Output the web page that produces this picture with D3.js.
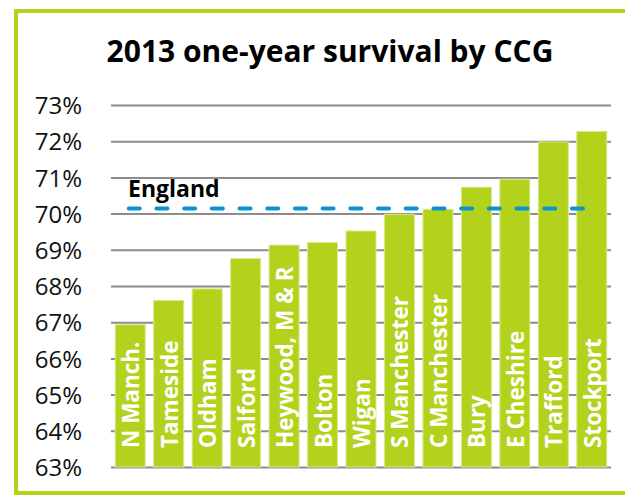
<!DOCTYPE html>
<html lang="en">
<head>
    <meta charset="UTF-8">
    <title>2013 one-year survival by CCG</title>
    <style>
        html, body { margin: 0; padding: 0; background: #fff; overflow: hidden; }
        svg { display: block; font-family: "Open Sans", sans-serif; }
    </style>
</head>
<body>
    <svg id="chart" width="625" height="495"></svg>

    <script src="https://d3js.org/d3.v7.min.js"></script>
    <script>
        // data
        const categories = ['N Manch.', 'Tameside', 'Oldham', 'Salford', 'Heywood, M & R', 'Bolton', 'Wigan',
            'S Manchester', 'C Manchester', 'Bury', 'E Cheshire', 'Trafford', 'Stockport'];
        const survival = [66.93, 67.6, 67.92, 68.76, 69.13, 69.2, 69.52, 69.98, 70.12, 70.73, 70.95, 71.98, 72.27];
        const englandValue = 70.14;
        const yTicks = [63, 64, 65, 66, 67, 68, 69, 70, 71, 72, 73];

        const svg = d3.select('#chart');
        const green = '#b3d21c';

        // outer green frame (runs off the right edge)
        svg.append('rect')
            .attr('x', 16).attr('y', 11)
            .attr('width', 640).attr('height', 482)
            .attr('fill', '#fff')
            .attr('stroke', green)
            .attr('stroke-width', 4);

        svg.append('text')
            .attr('x', 330).attr('y', 62)
            .attr('text-anchor', 'middle')
            .attr('font-size', 30)
            .attr('font-weight', 700)
            .attr('fill', '#000')
            .text('2013 one-year survival by CCG');

        const x = d3.scaleBand()
            .domain(categories)
            .range([111, 611])
            .paddingInner(0.22)
            .paddingOuter(0.11);

        const y = d3.scaleLinear()
            .domain([63, 73])
            .range([467, 105]);

        // gridlines + tick labels
        const yAxis = d3.axisLeft(y)
            .tickValues(yTicks)
            .tickSize(-500)
            .tickPadding(29)
            .tickFormat(d => d + '%');

        const gAxis = svg.append('g')
            .attr('transform', 'translate(111,0)')
            .call(yAxis);
        gAxis.select('.domain').remove();
        gAxis.selectAll('.tick line')
            .attr('stroke', '#8c8c8c')
            .attr('stroke-width', 2);
        gAxis.selectAll('.tick text')
            .attr('font-size', 24)
            .attr('font-family', '"Open Sans", sans-serif')
            .attr('fill', '#111')
            .attr('dy', '0.36em');

        // bars
        svg.append('g').selectAll('rect')
            .data(categories)
            .join('rect')
            .attr('x', d => x(d))
            .attr('width', x.bandwidth())
            .attr('y', (d, i) => y(survival[i]))
            .attr('height', (d, i) => y(63) - y(survival[i]))
            .attr('fill', green)
            .attr('stroke', '#d8ea92')
            .attr('stroke-width', 1);

        // rotated labels inside bars
        svg.append('g').selectAll('text')
            .data(categories)
            .join('text')
            .attr('transform', d => `translate(${x(d) + x.bandwidth() / 2 + 9},448) rotate(-90)`)
            .attr('font-size', 22.5)
            .attr('font-weight', 700)
            .attr('fill', '#fff')
            .text(d => d);

        // England reference line
        const bw = x.bandwidth();
        svg.append('line')
            .attr('x1', x(categories[0]) + bw * 0.45)
            .attr('x2', x(categories[categories.length - 1]) + bw * 0.4)
            .attr('y1', y(englandValue))
            .attr('y2', y(englandValue))
            .attr('stroke', '#0a93d1')
            .attr('stroke-width', 4)
            .attr('stroke-linecap', 'round')
            .attr('stroke-dasharray', '11,16.7');

        svg.append('text')
            .attr('x', 128).attr('y', 197)
            .attr('font-size', 23)
            .attr('font-weight', 700)
            .attr('fill', '#000')
            .text('England');
    </script>
</body>
</html>
